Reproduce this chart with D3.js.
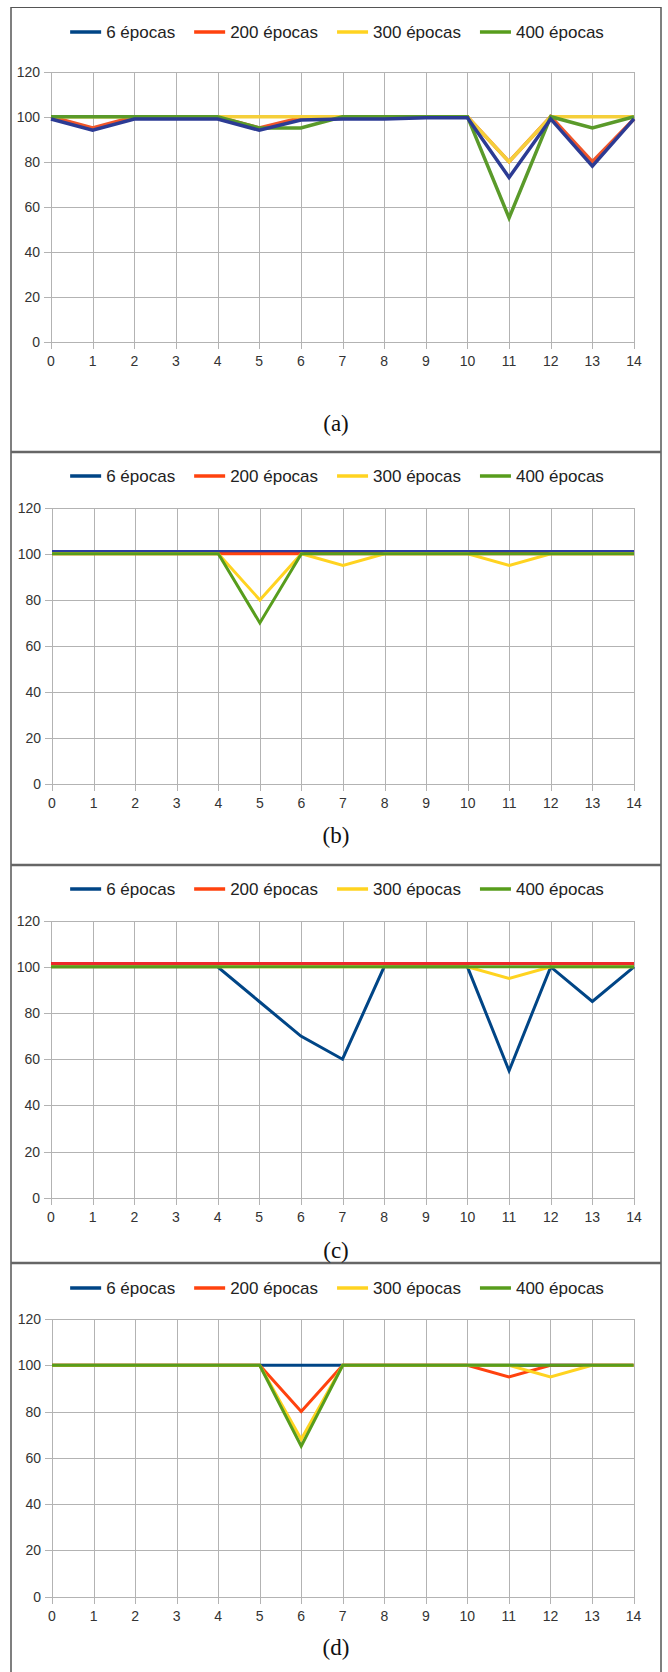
<!DOCTYPE html>
<html>
  <head>
    <meta charset="utf-8">
    <script src="https://cdnjs.cloudflare.com/ajax/libs/d3/7.8.5/d3.min.js"></script>
    <style>
      body { margin: 0; background: #fff; }
      svg { display: block; }
      .grid line { stroke: #b3b3b3; stroke-width: 1; shape-rendering: crispEdges; }
      .tick-label { font-family: "Liberation Sans", Arial, sans-serif; font-size: 14px; fill: #333; }
      .legend text { font-family: "Liberation Sans", Arial, sans-serif; font-size: 17px; fill: #222; }
      .caption { font-family: "Liberation Serif", "Times New Roman", serif; font-size: 23px; fill: #111; }
      path.series { fill: none; stroke-linejoin: miter; }
    </style>
  </head>
  <body>
    <svg width="668" height="1672"></svg>
    <script>

      // data
      var categories = [0, 1, 2, 3, 4, 5, 6, 7, 8, 9, 10, 11, 12, 13, 14];
      var yTicks = [0, 20, 40, 60, 80, 100, 120];
      var seriesNames = ["6 épocas", "200 épocas", "300 épocas", "400 épocas"];
      var seriesColors = ["#004586", "#ff420e", "#ffd320", "#579d1c"];
      var captions = ["(a)", "(b)", "(c)", "(d)"];

      var a6   = [99, 94, 99, 99, 99, 94, 98.5, 99, 99, 99.5, 99.5, 73, 99, 78, 99];
      var a200 = [100, 95, 100, 100, 100, 95, 99.5, 100, 100, 100, 100, 80, 100, 80, 99];
      var a300 = [100, 100, 100, 100, 100, 100, 100, 100, 100, 100, 100, 80, 100, 100, 100];
      var a400 = [100, 100, 100, 100, 100, 95, 95, 100, 100, 100, 100, 55, 100, 95, 100];

      var b6   = [101, 101, 101, 101, 101, 101, 101, 101, 101, 101, 101, 101, 101, 101, 101];
      var b200 = [100, 100, 100, 100, 100, 100, 100, 100, 100, 100, 100, 100, 100, 100, 100];
      var b300 = [100, 100, 100, 100, 100, 80, 100, 95, 100, 100, 100, 95, 100, 100, 100];
      var b400 = [100, 100, 100, 100, 100, 70, 100, 100, 100, 100, 100, 100, 100, 100, 100];

      var c6   = [100, 100, 100, 100, 100, 85, 70, 60, 100, 100, 100, 55, 100, 85, 100];
      var c200 = [101.5, 101.5, 101.5, 101.5, 101.5, 101.5, 101.5, 101.5, 101.5, 101.5, 101.5, 101.5, 101.5, 101.5, 101.5];
      var c300 = [100, 100, 100, 100, 100, 100, 100, 100, 100, 100, 100, 95, 100, 100, 100];
      var c400 = [100, 100, 100, 100, 100, 100, 100, 100, 100, 100, 100, 100, 100, 100, 100];

      var d6   = [100, 100, 100, 100, 100, 100, 100, 100, 100, 100, 100, 100, 100, 100, 100];
      var d200 = [100, 100, 100, 100, 100, 100, 80, 100, 100, 100, 100, 95, 100, 100, 100];
      var d300 = [100, 100, 100, 100, 100, 100, 68, 100, 100, 100, 100, 100, 95, 100, 100];
      var d400 = [100, 100, 100, 100, 100, 100, 65, 100, 100, 100, 100, 100, 100, 100, 100];

      // layout of each panel (pixels)
      var panels = [
        { series: [a6, a200, a300, a400], order: [1, 2, 3, 0], lineColors: ["#2c3b94", "#f0562a", "#f5cf3a", "#5a9a2a"],
          width: 3.5, legendY: 32, left: 51, right: 634, top: 71.7, bottom: 341.7, captionY: 431 },
        { series: [b6, b200, b300, b400], order: [0, 1, 2, 3], lineColors: ["#2b3ca0", "#ff420e", "#ffd320", "#579d1c"],
          width: 3, legendY: 476, left: 52, right: 634, top: 507.7, bottom: 784.3, captionY: 843 },
        { series: [c6, c200, c300, c400], order: [0, 2, 3, 1], lineColors: ["#004586", "#ec2a2a", "#ffd320", "#579d1c"],
          width: 3, legendY: 889, left: 51, right: 634, top: 920.7, bottom: 1197.7, captionY: 1258 },
        { series: [d6, d200, d300, d400], order: [0, 1, 2, 3], lineColors: ["#004586", "#ff420e", "#ffd320", "#579d1c"],
          width: 3, legendY: 1288, left: 52, right: 633.5, top: 1319, bottom: 1596.7, captionY: 1655 }
      ];

      var svg = d3.select("svg");

      // frame around the figure
      var frame = svg.append("g").attr("stroke", "#555").attr("fill", "none");
      frame.append("line").attr("x1", 11).attr("x2", 11).attr("y1", 7).attr("y2", 1672).attr("stroke-width", 1.5);
      frame.append("line").attr("x1", 661).attr("x2", 661).attr("y1", 7).attr("y2", 1672).attr("stroke-width", 1.5);
      frame.append("line").attr("x1", 11).attr("x2", 661).attr("y1", 7.5).attr("y2", 7.5).attr("stroke-width", 1.2);
      [452, 865, 1263].forEach(y => {
        frame.append("line").attr("x1", 11).attr("x2", 661).attr("y1", y).attr("y2", y)
          .attr("stroke", "#666").attr("stroke-width", 2.5);
      });

      panels.forEach((p, i) => drawPanel(p, i));

      function drawPanel(p, i) {
        var g = svg.append("g");

        var x = d3.scaleLinear().domain(d3.extent(categories)).range([p.left, p.right]);
        var y = d3.scaleLinear().domain([0, 120]).range([p.bottom, p.top]);

        // grid + small outer ticks
        var grid = g.append("g").attr("class", "grid");
        grid.selectAll("line.h").data(yTicks).enter().append("line")
          .attr("x1", p.left - 7).attr("x2", p.right)
          .attr("y1", d => Math.round(y(d)) + 0.5).attr("y2", d => Math.round(y(d)) + 0.5);
        grid.selectAll("line.v").data(categories).enter().append("line")
          .attr("y1", p.top).attr("y2", p.bottom + 7)
          .attr("x1", d => Math.round(x(d)) + 0.5).attr("x2", d => Math.round(x(d)) + 0.5);

        g.selectAll("text.ylab").data(yTicks).enter().append("text")
          .attr("class", "tick-label")
          .attr("x", p.left - 11).attr("y", d => y(d) + 5)
          .attr("text-anchor", "end").text(d => d);

        g.selectAll("text.xlab").data(categories).enter().append("text")
          .attr("class", "tick-label")
          .attr("x", d => x(d)).attr("y", p.bottom + 24)
          .attr("text-anchor", "middle").text(d => d);

        var line = d3.line().x((d, k) => x(categories[k])).y(d => y(d));

        p.order.forEach(s => {
          g.append("path").attr("class", "series")
            .attr("d", line(p.series[s]))
            .attr("stroke", p.lineColors[s])
            .attr("stroke-width", p.width);
        });

        // legend, laid out from measured text widths
        var leg = g.append("g").attr("class", "legend");
        var items = leg.selectAll("g").data(seriesNames).enter().append("g");
        items.append("line").attr("x1", 0).attr("x2", 31).attr("y1", 0).attr("y2", 0)
          .attr("stroke", (d, k) => seriesColors[k]).attr("stroke-width", 3.5);
        items.append("text").attr("x", 36).attr("y", 6).text(d => d);
        var pos = 0;
        var offsets = [];
        items.each(function () {
          offsets.push(pos);
          pos += 36 + this.querySelector("text").getComputedTextLength() + 19;
        });
        var total = pos - 19;
        var start = 337 - total / 2;
        items.attr("transform", (d, k) => "translate(" + (start + offsets[k]) + "," + p.legendY + ")");

        g.append("text").attr("class", "caption")
          .attr("x", 336).attr("y", p.captionY)
          .attr("text-anchor", "middle").text(captions[i]);
      }
    </script>
  </body>
</html>
